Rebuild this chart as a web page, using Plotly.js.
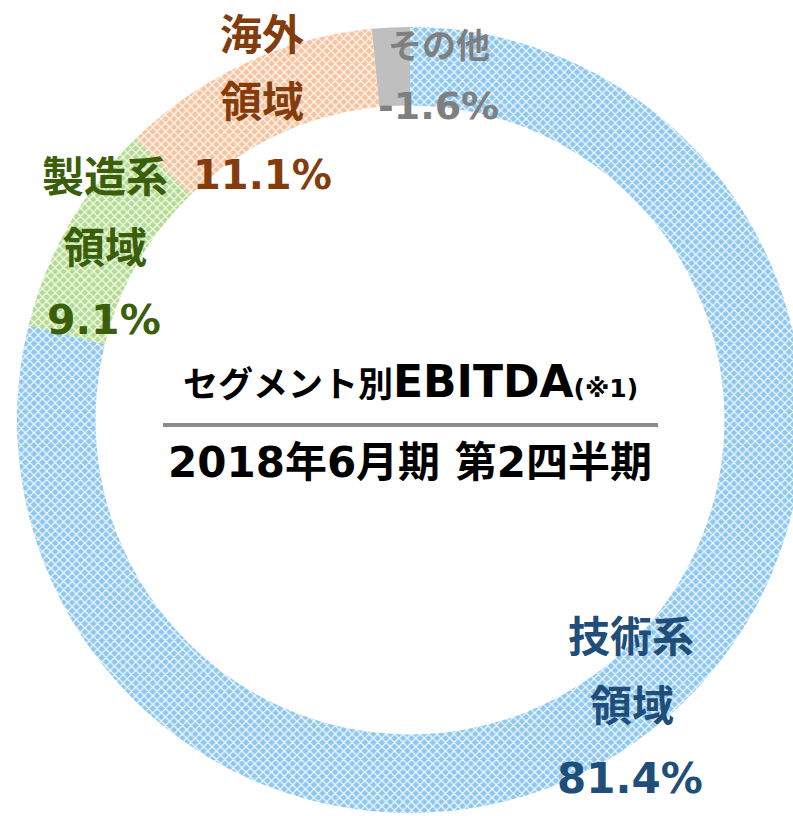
<!DOCTYPE html>
<html>
<head>
<meta charset="utf-8">
<script src="https://cdn.plot.ly/plotly-3.0.1.min.js"></script>
<style>
html,body{margin:0;padding:0;overflow:hidden;background:#fff;}
#chart{width:820px;height:816px;}
</style>
</head>
<body>
<div id="chart"></div>
<script>
// ---- data ----
const categories = ['技術系領域', '製造系領域', '海外領域', 'その他'];
const shares = [81.4, 9.1, 11.1, -1.6];
const labelLines = [['技術系', '領域'], ['製造系', '領域'], ['海外', '領域'], ['その他']];
const sliceColors = ['#8ec8f0', '#b4dc90', '#f8c4a0', '#bfbfbf'];
const textColors = ['#1f4e79', '#3b5e0b', '#843c0c', '#7f7f7f'];
const centerTitle = 'セグメント別';
const centerTitleLatin = 'EBITDA';
const centerNote = '(※1)';
const centerSub = '2018年6月期 第2四半期';

// ---- layout helpers ----
const W = 820, H = 816;
const M = {l: 17, r: 17, t: 27, b: 3};
const PW = W - M.l - M.r, PH = H - M.t - M.b;
const px = x => (x - M.l) / PW;
const py = y => (H - M.b - y) / PH;
const FONT = 'DejaVu Sans, "Noto Sans CJK JP", sans-serif';

// label pixel anchors (line centers) per slice
const labelPos = [
  [[631, 637], [632, 706], [630, 778]],
  [[105, 177], [105, 248], [104, 320]],
  [[262, 36], [262, 103], [262, 175]],
  [[439, 46], [438, 106]]
];
const kanjiSize = [42, 42, 42, 34];
const pctSize = [42, 41, 40, 38];

const annotations = [];
categories.forEach((c, i) => {
  const lines = labelLines[i].slice();
  const pct = shares[i].toFixed(1) + '%';
  lines.push(pct);
  lines.forEach((t, j) => {
    const p = labelPos[i][j];
    annotations.push({
      xref: 'paper', yref: 'paper', x: px(p[0]), y: py(p[1]),
      xanchor: 'center', yanchor: 'middle', showarrow: false,
      text: t,
      font: {family: FONT, size: j === lines.length - 1 ? pctSize[i] : kanjiSize[i], color: textColors[i], weight: 'bold'}
    });
  });
});

annotations.push({
  xref: 'paper', yref: 'paper', x: px(410), y: py(382),
  xanchor: 'center', yanchor: 'middle', showarrow: false,
  text: '<span style="font-size:35px">' + centerTitle + '</span>' + centerTitleLatin +
        '<span style="font-size:25px">' + centerNote + '</span>',
  font: {family: FONT, size: 44, color: '#000000', weight: 'bold'}
});
annotations.push({
  xref: 'paper', yref: 'paper', x: px(410), y: py(462),
  xanchor: 'center', yanchor: 'middle', showarrow: false,
  text: centerSub,
  font: {family: FONT, size: 42, color: '#000000', weight: 'bold'}
});

const trace = {
  type: 'pie',
  labels: categories,
  values: shares.map(v => Math.abs(v)),
  hole: 0.8,
  sort: false,
  direction: 'clockwise',
  rotation: 0,
  textinfo: 'none',
  hoverinfo: 'label+text',
  text: shares.map(v => v.toFixed(1) + '%'),
  marker: {
    colors: sliceColors,
    line: {width: 0},
    pattern: {
      shape: ['x', 'x', 'x', ''],
      fgcolor: ['#ffffff', '#ffffff', '#ffffff', '#bfbfbf'],
      bgcolor: sliceColors,
      fillmode: 'replace',
      size: 6,
      solidity: 0.35
    }
  },
  showlegend: false
};

const layout = {
  width: W, height: H,
  margin: M,
  paper_bgcolor: '#ffffff',
  showlegend: false,
  annotations: annotations,
  shapes: [{
    type: 'line', xref: 'paper', yref: 'paper',
    x0: px(163), x1: px(658), y0: py(425), y1: py(425),
    line: {color: '#8c8c8c', width: 4}
  }]
};

Plotly.newPlot('chart', [trace], layout, {displayModeBar: false, staticPlot: true});
</script>
</body>
</html>
